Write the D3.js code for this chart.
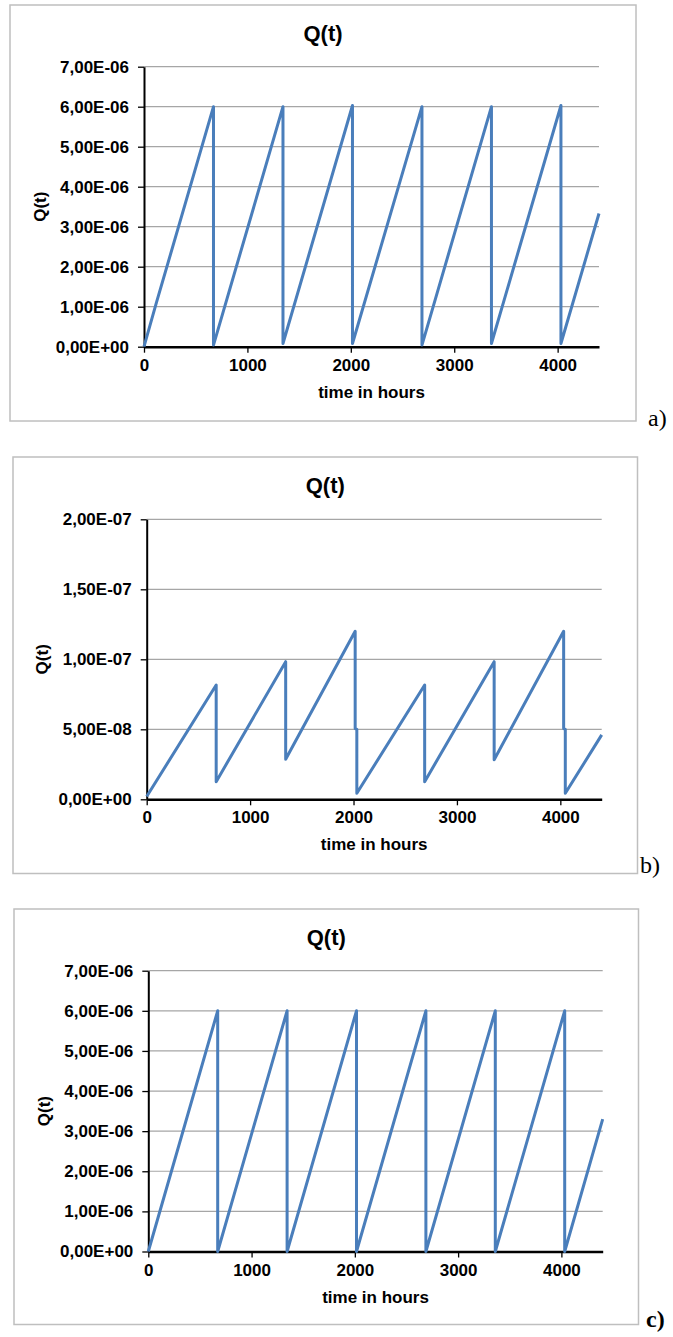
<!DOCTYPE html>
<html>
<head>
<meta charset="utf-8">
<script src="https://cdn.jsdelivr.net/npm/d3@7"></script>
<style>
  html, body { margin: 0; padding: 0; background: #ffffff; }
  svg { display: block; }
</style>
</head>
<body>
<svg id="chart" width="673" height="1337"></svg>
<script>
// ---------- DATA ----------
const chartTitle = "Q(t)";
const xAxisTitle = "time in hours";
const yAxisTitle = "Q(t)";
const panelLabels = ["a)", "b)", "c)"];

const timeTicks = [0, 1000, 2000, 3000, 4000];
const timeMax = 4400;

// panel a
const yTicksA = [0, 1e-6, 2e-6, 3e-6, 4e-6, 5e-6, 6e-6, 7e-6];
const yTickLabelsA = ["0,00E+00", "1,00E-06", "2,00E-06", "3,00E-06", "4,00E-06", "5,00E-06", "6,00E-06", "7,00E-06"];
const tA = [0, 120, 672, 672, 1344, 1344, 2016, 2016, 2688, 2688, 3360, 3360, 4032, 4032, 4400];
const qA = [0, 1.1e-6, 6.0e-6, 0.04e-6, 6.0e-6, 0.08e-6, 6.03e-6, 0.08e-6, 6.0e-6, 0.04e-6, 6.0e-6, 0.08e-6, 6.03e-6, 0.08e-6, 3.33e-6];

// panel b
const yTicksB = [0, 5e-8, 1e-7, 1.5e-7, 2e-7];
const yTickLabelsB = ["0,00E+00", "5,00E-08", "1,00E-07", "1,50E-07", "2,00E-07"];
const tB = [0, 672, 672, 1344, 1344, 2016, 2016, 2032, 2032, 2688, 2688, 3360, 3360, 4032, 4032, 4048, 4048, 4400];
const qB = [0.2e-8, 8.16e-8, 1.26e-8, 9.83e-8, 2.86e-8, 12.0e-8, 5.05e-8, 5.0e-8, 0.43e-8, 8.16e-8, 1.26e-8, 9.83e-8, 2.83e-8, 12.0e-8, 5.05e-8, 5.0e-8, 0.43e-8, 4.6e-8];

// panel c
const yTicksC = [0, 1e-6, 2e-6, 3e-6, 4e-6, 5e-6, 6e-6, 7e-6];
const yTickLabelsC = ["0,00E+00", "1,00E-06", "2,00E-06", "3,00E-06", "4,00E-06", "5,00E-06", "6,00E-06", "7,00E-06"];
const tC = [0, 672, 672, 1344, 1344, 2016, 2016, 2688, 2688, 3360, 3360, 4032, 4032, 4400];
const qC = [0, 6e-6, 0, 6e-6, 0, 6e-6, 0, 6e-6, 0, 6e-6, 0, 6e-6, 0, 3.3e-6];

// ---------- LAYOUT ----------
const panels = [
  { frame: [10, 5, 636, 421], x0: 144, x1: 599, yB: 346.7, yT: 66.7,
    yTicks: yTicksA, yLabels: yTickLabelsA, t: tA, q: qA,
    label: panelLabels[0], lx: 648, ly: 426, lw: "normal" },
  { frame: [13, 457, 637.5, 873.5], x0: 146.7, x1: 601.7, yB: 799.3, yT: 519.3,
    yTicks: yTicksB, yLabels: yTickLabelsB, t: tB, q: qB,
    label: panelLabels[1], lx: 640, ly: 873, lw: "normal" },
  { frame: [14, 909, 638.5, 1324.5], x0: 148.3, x1: 602.7, yB: 1251.5, yT: 970.7,
    yTicks: yTicksC, yLabels: yTickLabelsC, t: tC, q: qC,
    label: panelLabels[2], lx: 646, ly: 1327, lw: "bold" }
];

const LINE = "#4a7ebb";
const GRID = "#a6a6a6";
const FONT = "'Liberation Sans', Arial, sans-serif";
const SERIF = "'Liberation Serif', 'Times New Roman', serif";

const svg = d3.select("#chart");

panels.forEach(p => {
  const g = svg.append("g");
  const [fx0, fy0, fx1, fy1] = p.frame;

  // frame
  g.append("rect")
    .attr("x", fx0).attr("y", fy0)
    .attr("width", fx1 - fx0).attr("height", fy1 - fy0)
    .attr("fill", "#fff").attr("stroke", "#bfbfbf").attr("stroke-width", 1.5);

  const x = d3.scaleLinear().domain([0, timeMax]).range([p.x0, p.x1]);
  const yMax = p.yTicks[p.yTicks.length - 1];
  const y = d3.scaleLinear().domain([0, yMax]).range([p.yB, p.yT]);

  // gridlines
  g.append("g").selectAll("line").data(p.yTicks.slice(1)).join("line")
    .attr("x1", p.x0).attr("x2", p.x1)
    .attr("y1", d => y(d)).attr("y2", d => y(d))
    .attr("stroke", GRID).attr("stroke-width", 1.2);

  // y axis
  const yAxis = d3.axisLeft(y).tickValues(p.yTicks)
    .tickFormat((d, i) => p.yLabels[i]).tickSizeInner(6).tickSizeOuter(0).tickPadding(9);
  const ya = g.append("g").attr("transform", `translate(${p.x0},0)`).call(yAxis);
  ya.select(".domain").attr("stroke", "#000").attr("stroke-width", 2);
  ya.selectAll(".tick line").attr("stroke", "#000").attr("stroke-width", 1.3);
  ya.selectAll(".tick text").attr("font-family", FONT).attr("font-size", 17)
    .attr("font-weight", "bold").attr("fill", "#000");

  // x axis
  const xAxis = d3.axisBottom(x).tickValues(timeTicks).tickFormat(d3.format("d"))
    .tickSizeInner(6).tickSizeOuter(0).tickPadding(6);
  const xa = g.append("g").attr("transform", `translate(0,${p.yB})`).call(xAxis);
  xa.select(".domain").attr("stroke", "#000").attr("stroke-width", 2.4);
  xa.selectAll(".tick line").attr("stroke", "#000").attr("stroke-width", 1.3);
  xa.selectAll(".tick text").attr("font-family", FONT).attr("font-size", 17)
    .attr("font-weight", "bold").attr("fill", "#000");

  // series
  const pts = p.t.map((t, i) => [t, p.q[i]]);
  const line = d3.line().x(d => x(d[0])).y(d => y(d[1]));
  g.append("path").datum(pts)
    .attr("d", line)
    .attr("fill", "none").attr("stroke", LINE).attr("stroke-width", 3)
    .attr("stroke-linejoin", "round").attr("stroke-linecap", "butt");

  // title
  g.append("text")
    .attr("x", (fx0 + fx1) / 2).attr("y", fy0 + 35.5)
    .attr("text-anchor", "middle")
    .attr("font-family", FONT).attr("font-size", 22).attr("font-weight", "bold")
    .text(chartTitle);

  // x axis title
  g.append("text")
    .attr("x", (p.x0 + p.x1) / 2).attr("y", p.yB + 51)
    .attr("text-anchor", "middle")
    .attr("font-family", FONT).attr("font-size", 17).attr("font-weight", "bold")
    .text(xAxisTitle);

  // y axis title
  const cy = (p.yB + p.yT) / 2;
  const cx = p.x0 - 104;
  g.append("text")
    .attr("transform", `translate(${cx},${cy}) rotate(-90)`)
    .attr("text-anchor", "middle").attr("dominant-baseline", "central")
    .attr("font-family", FONT).attr("font-size", 17).attr("font-weight", "bold")
    .text(yAxisTitle);

  // panel label
  g.append("text")
    .attr("x", p.lx).attr("y", p.ly)
    .attr("font-family", SERIF).attr("font-size", 24).attr("font-weight", p.lw)
    .text(p.label);
});
</script>
</body>
</html>
